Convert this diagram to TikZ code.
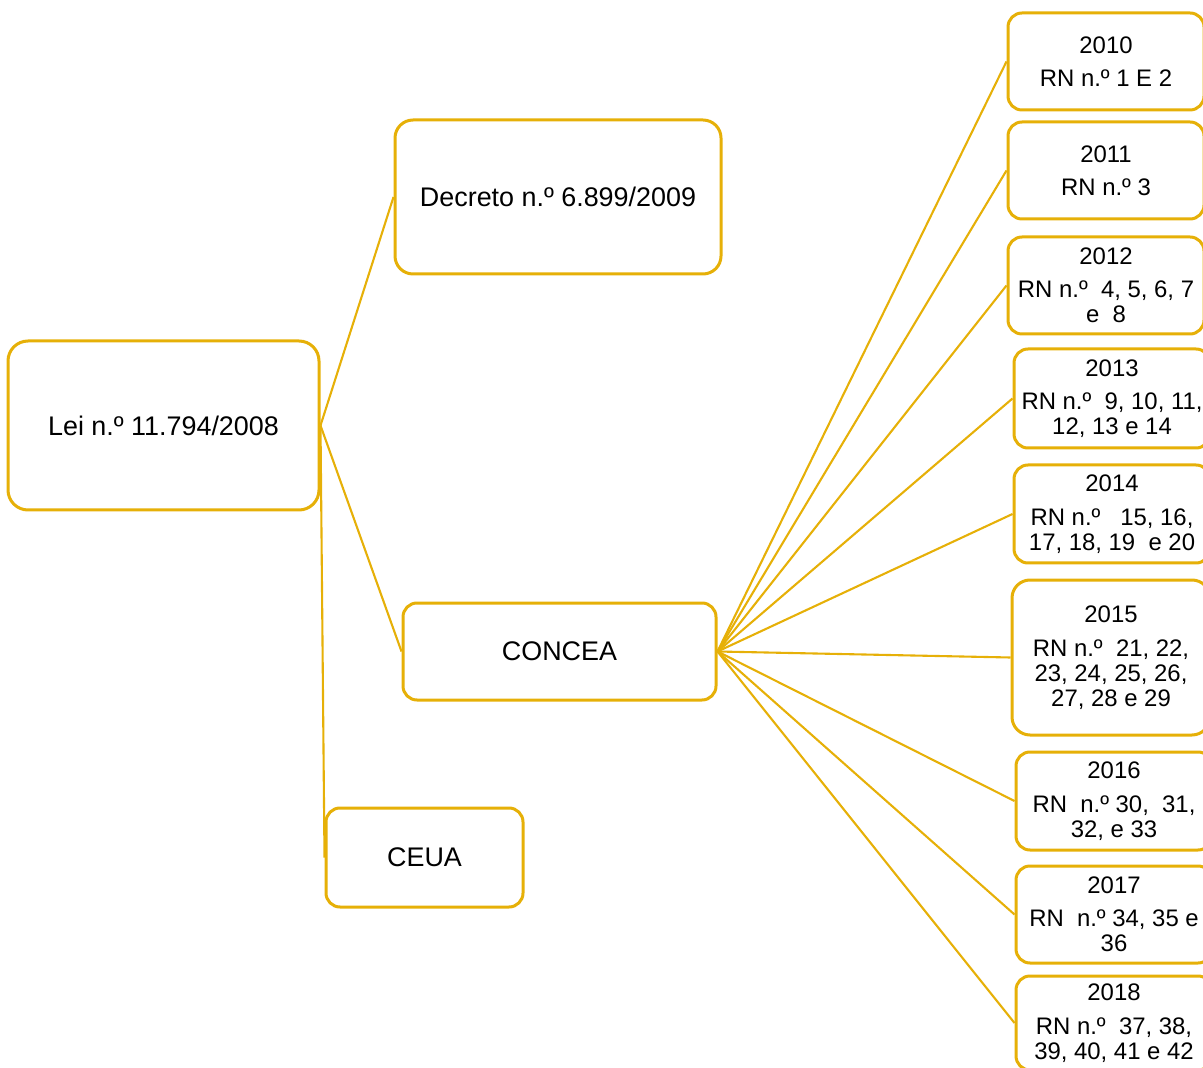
\documentclass[tikz,border=0pt]{standalone}
\usepackage{fontspec}
\setmainfont{Liberation Sans}
\definecolor{gold}{RGB}{230,176,8}
\begin{document}
\begin{tikzpicture}[x=0.5pt,y=-0.5pt,
  box/.style={draw=gold, line width=1.5pt, rounded corners=7pt, align=center, inner sep=0pt, fill=white},
  bigfont/.style={font=\fontsize{13.45}{15}\selectfont},
  yearbox/.style={box, minimum width=98pt, font=\fontsize{11.95}{12.5}\selectfont},
  link/.style={draw=gold, line width=1.05pt}]
\useasboundingbox (0,0) rectangle (1203,1068);
\node[box, bigfont, rounded corners=10pt, minimum width=155.5pt, minimum height=84.5pt] (lei) at (163.5,425.5) {Lei n.º 11.794/2008};
\node[box, bigfont, rounded corners=9pt, minimum width=163pt, minimum height=77pt] (dec) at (558,197) {Decreto n.º 6.899/2009};
\node[box, bigfont, minimum width=156.5pt, minimum height=48.5pt] (concea) at (559.5,651.5) {CONCEA};
\node[box, bigfont, minimum width=98.5pt, minimum height=49.5pt] (ceua) at (424.5,857.5) {CEUA};

\node[yearbox, minimum height=48.5pt] (y2010) at (1106,61.5) {2010\\[4.2pt]RN n.º 1 E 2};
\node[yearbox, minimum height=48.5pt] (y2011) at (1106,170.5) {2011\\[4.2pt]RN n.º 3};
\node[yearbox, minimum height=48.5pt] (y2012) at (1106,285.5) {2012\\[4.2pt]RN n.º\ \ 4, 5, 6, 7\\e\ \ 8};
\node[yearbox, minimum height=49.5pt] (y2013) at (1112,398.5) {2013\\[4.2pt]RN n.º\ \ 9, 10, 11,\\12, 13 e 14};
\node[yearbox, minimum height=49pt] (y2014) at (1112,514) {2014\\[4.2pt]RN n.º\ \ \ 15, 16,\\17, 18, 19\ \ e 20};
\node[yearbox, minimum width=99pt, minimum height=77.5pt, rounded corners=9pt] (y2015) at (1111,657.5) {2015\\[4.2pt]RN n.º\ \ 21, 22,\\23, 24, 25, 26,\\27, 28 e 29};
\node[yearbox, minimum height=49pt] (y2016) at (1114,801) {2016\\[4.2pt]RN\ \ n.º 30,\ \ 31,\\32, e 33};
\node[yearbox, minimum height=48.5pt] (y2017) at (1114,914.5) {2017\\[4.2pt]RN\ \ n.º 34, 35 e\\36};
\node[yearbox, minimum height=47pt] (y2018) at (1114,1023) {2018\\[4.2pt]RN n.º\ \ 37, 38,\\39, 40, 41 e 42};

\draw[link] (lei.east) -- (dec.west);
\draw[link] (lei.east) -- (concea.west);
\draw[link] (lei.east) -- (ceua.west);
\foreach \y in {2010,2011,2012,2013,2014,2015,2016,2017,2018}
  \draw[link] (concea.east) -- (y\y.west);
\end{tikzpicture}
\end{document}
